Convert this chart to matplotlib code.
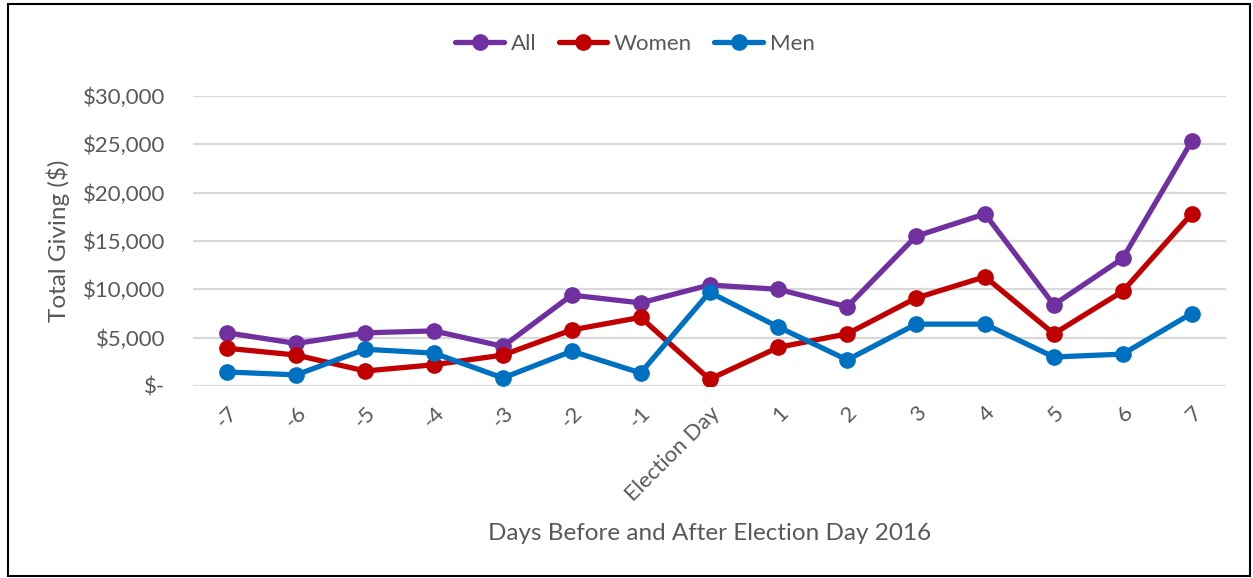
import matplotlib
matplotlib.use("Agg")
import matplotlib.pyplot as plt
from matplotlib.patches import Rectangle
from matplotlib.ticker import FuncFormatter

days = ["-7", "-6", "-5", "-4", "-3", "-2", "-1", "Election Day",
        "1", "2", "3", "4", "5", "6", "7"]
all_giving = [5500, 4400, 5500, 5700, 4100, 9400, 8600, 10450,
              10000, 8200, 15500, 17800, 8400, 13200, 25300]
women_giving = [3900, 3200, 1550, 2200, 3200, 5800, 7100, 700,
                4000, 5400, 9100, 11300, 5400, 9800, 17800]
men_giving = [1450, 1150, 3800, 3400, 830, 3600, 1350, 9700,
              6100, 2700, 6400, 6400, 3000, 3300, 7500]
yticks = [0, 5000, 10000, 15000, 20000, 25000, 30000]

plt.rcParams['font.family'] = ['Lato', 'DejaVu Sans']

fig = plt.figure(figsize=(12.53, 5.78), dpi=100)
ax = fig.add_axes([193/1253, (578-386)/578, (1226-193)/1253, (386-96)/578])

x = list(range(len(days)))
series = [("All", all_giving, "#7030A0"),
          ("Women", women_giving, "#C00000"),
          ("Men", men_giving, "#0070C0")]
for name, vals, col in series:
    ax.plot(x, vals, color=col, lw=3.8, marker='o', markersize=11,
            label=name, solid_capstyle='round', zorder=3)

ax.set_xlim(-0.5, len(days) - 0.5)
ax.set_ylim(0, 30000)
ax.set_yticks(yticks)
ax.yaxis.set_major_formatter(FuncFormatter(
    lambda v, p: "$-" if v == 0 else "${:,.0f}".format(v)))
ax.set_xticks(x)
ax.set_xticklabels(days, rotation=45, ha='right', rotation_mode='anchor')
ax.grid(axis='y', color='#D9D9D9', lw=1.6, zorder=0)
ax.set_axisbelow(True)
for s in ax.spines.values():
    s.set_visible(False)
ax.tick_params(axis='both', length=0, labelsize=16, colors='#595959')
ax.tick_params(axis='y', pad=20)
ax.tick_params(axis='x', pad=12)

ax.set_ylabel("Total Giving ($)", fontsize=17.5, color='#595959')
ax.yaxis.set_label_coords(-(193-58)/1033, 0.5)
ax.set_xlabel("Days Before and After Election Day 2016", fontsize=17.5,
              color='#595959')
ax.xaxis.set_label_coords(0.5, -(533-386)/290)
ax.xaxis.label.set_va('center')
ax.yaxis.label.set_va('center')

leg = ax.legend(loc='center', bbox_to_anchor=(635/1253, (578-44)/578),
                bbox_transform=fig.transFigure, ncol=3, frameon=False,
                fontsize=16, handlelength=2.2, columnspacing=1.0,
                handletextpad=0.3, markerscale=1.0)
for t in leg.get_texts():
    t.set_color('#595959')

fig.patches.append(Rectangle((8/1253, 2/578), (1250-8)/1253, (574-2)/578,
                             transform=fig.transFigure, fill=False,
                             edgecolor='black', lw=1.5))

fig.savefig("out.png", dpi=100)
